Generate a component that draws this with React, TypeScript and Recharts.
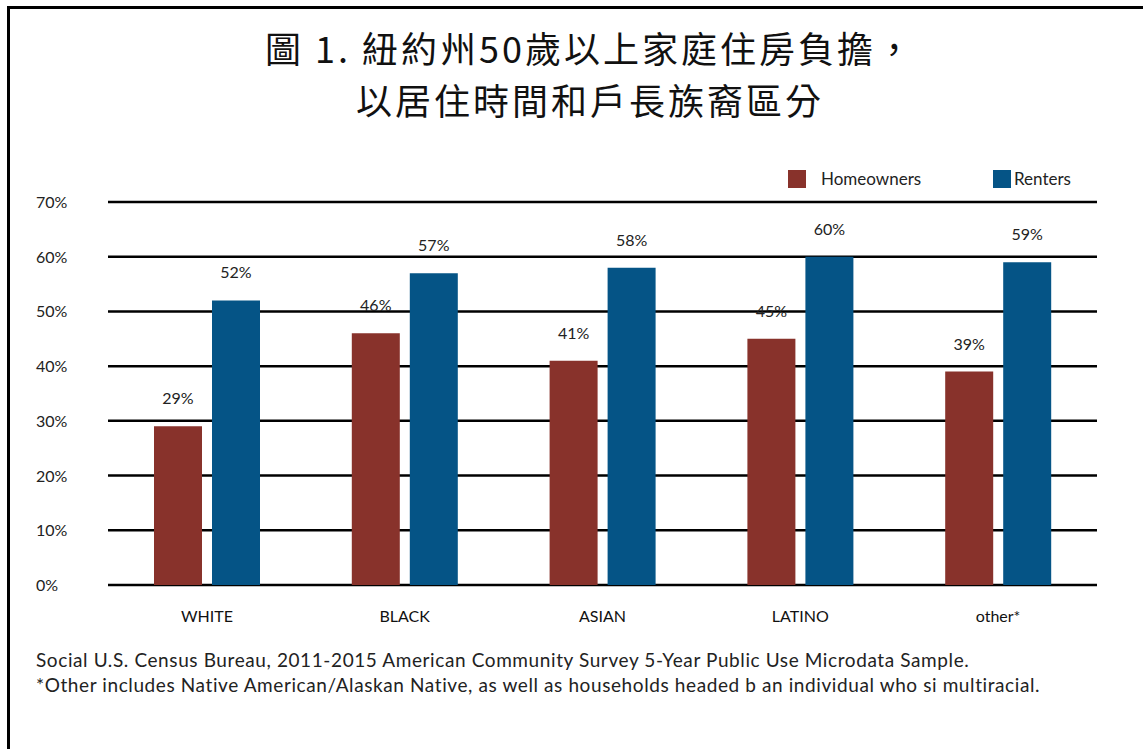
import {
  BarChart,
  Bar,
  XAxis,
  YAxis,
  CartesianGrid,
  LabelList,
} from "recharts";

const groups = ["WHITE", "BLACK", "ASIAN", "LATINO", "other*"];
const homeowners = [29, 46, 41, 45, 39];
const renters = [52, 57, 58, 60, 59];
const yTicks = [0, 10, 20, 30, 40, 50, 60, 70];

const titleLines = [
  "圖 1. 紐約州50歲以上家庭住房負擔，",
  "以居住時間和戶長族裔區分",
];
const notes = [
  "Social U.S. Census Bureau, 2011-2015 American Community Survey 5-Year Public Use Microdata Sample.",
  "*Other includes Native American/Alaskan Native, as well as households headed b an individual who si multiracial.",
];

const RED = "#88322b";
const BLUE = "#055486";
const FONT = "Lato, 'Noto Sans', sans-serif";

const data = groups.map((g, i) => ({
  group: g,
  Homeowners: homeowners[i],
  Renters: renters[i],
}));

function YTick(props: any) {
  const { y, payload } = props;
  return (
    <text
      x={36}
      y={y}
      dy={6}
      textAnchor="start"
      fontSize={16}
      fill="#222"
      fontFamily={FONT}
    >
      {payload.value}%
    </text>
  );
}

function XTick(props: any) {
  const { x, y, payload } = props;
  return (
    <text
      x={x}
      y={y}
      dy={29}
      textAnchor="middle"
      fontSize={16}
      fill="#111"
      fontFamily={FONT}
    >
      {payload.value}
    </text>
  );
}

const legendItems = [
  { name: "Homeowners", color: RED, x: 788, gap: 15 },
  { name: "Renters", color: BLUE, x: 993, gap: 3 },
];

export default function App() {
  return (
    <div
      style={{
        position: "absolute",
        left: 0,
        top: 0,
        width: 1143,
        height: 749,
        background: "#fff",
        overflow: "hidden",
      }}
    >
      <div
        style={{
          position: "absolute",
          left: 7,
          top: 6,
          right: 0,
          bottom: 0,
          borderLeft: "3px solid #000",
          borderTop: "3px solid #000",
        }}
      />
      {titleLines.map((t, i) => (
        <div
          key={t}
          style={{
            position: "absolute",
            left: 0,
            top: 21 + i * 52,
            width: 1180,
            textAlign: "center",
            fontFamily: "'Noto Sans CJK TC', sans-serif",
            fontSize: 36,
            letterSpacing: 3,
            lineHeight: "52px",
            color: "#111",
          }}
        >
          {t}
        </div>
      ))}
      <div style={{ position: "absolute", left: 0, top: 0 }}>
        <BarChart
          width={1143}
          height={749}
          data={data}
          margin={{ top: 202, right: 46, bottom: 134, left: 0 }}
          barSize={48}
          barGap={10}
        >
          <CartesianGrid
            vertical={false}
            stroke="#000"
            strokeWidth={2.5}
          />
          <XAxis
            dataKey="group"
            height={30}
            axisLine={false}
            tickLine={false}
            tick={<XTick />}
            interval={0}
          />
          <YAxis
            domain={[0, 70]}
            ticks={yTicks}
            width={108}
            axisLine={false}
            tickLine={false}
            tick={<YTick />}
          />
          <Bar dataKey="Homeowners" fill={RED} isAnimationActive={false}>
            <LabelList
              dataKey="Homeowners"
              position="top"
              offset={22}
              formatter={(v: any) => `${v}%`}
              fontSize={16}
              fill="#222"
              fontFamily={FONT}
            />
          </Bar>
          <Bar dataKey="Renters" fill={BLUE} isAnimationActive={false}>
            <LabelList
              dataKey="Renters"
              position="top"
              offset={22}
              formatter={(v: any) => `${v}%`}
              fontSize={16}
              fill="#222"
              fontFamily={FONT}
            />
          </Bar>
        </BarChart>
      </div>
      {legendItems.map((it) => (
        <div
          key={it.name}
          style={{
            position: "absolute",
            left: it.x,
            top: 168,
            display: "flex",
            alignItems: "center",
            fontFamily: FONT,
            fontSize: 17,
            color: "#222",
          }}
        >
          <span
            style={{
              width: 18,
              height: 18,
              background: it.color,
              display: "inline-block",
              marginRight: it.gap,
            }}
          />
          {it.name}
        </div>
      ))}
      <div
        style={{
          position: "absolute",
          left: 36,
          top: 647,
          fontFamily: FONT,
          fontSize: 19,
          letterSpacing: 0.6,
          lineHeight: "25px",
          color: "#222",
          whiteSpace: "nowrap",
        }}
      >
        {notes.map((n) => (
          <div key={n}>{n}</div>
        ))}
      </div>
    </div>
  );
}
